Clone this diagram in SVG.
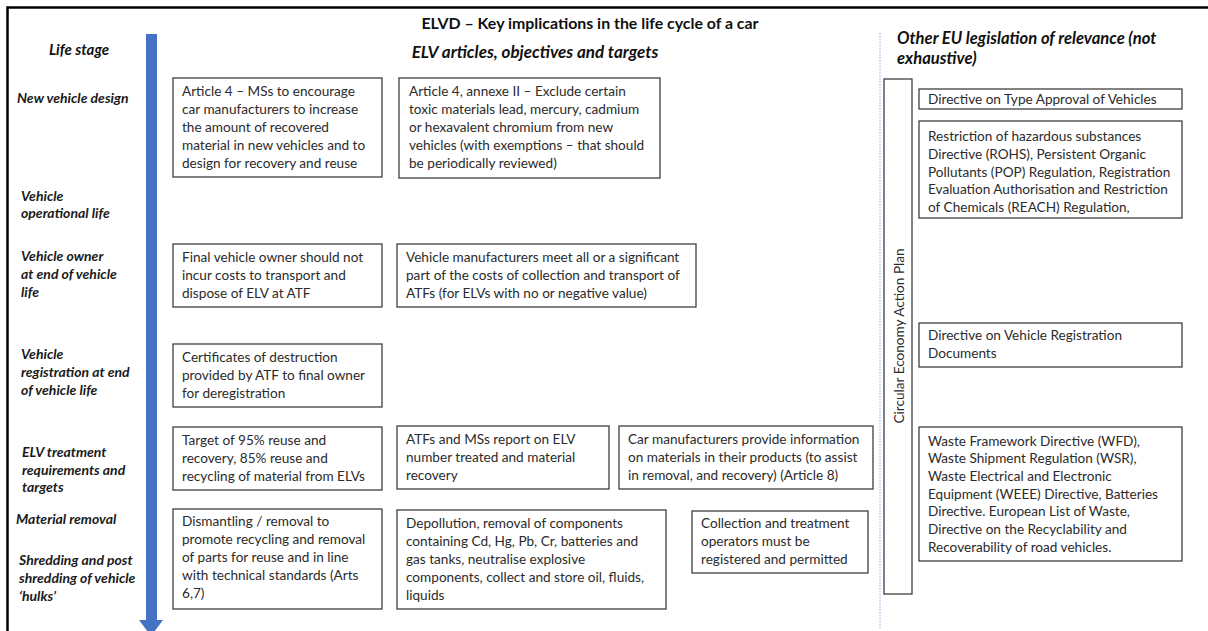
<svg xmlns="http://www.w3.org/2000/svg" width="1208" height="631" viewBox="0 0 1208 631">
  <style>
    .box { fill: #ffffff; stroke: #3f3f3f; stroke-width: 1.3; }
    .t { font-family: Lato, "Liberation Sans", sans-serif; font-size: 13.6px; fill: #2b2b2b; }
    .lab { font-family: Lato, "Liberation Sans", sans-serif; font-size: 14px; font-weight: bold; font-style: italic; fill: #1a1a1a; }
    .head { font-family: Lato, "Liberation Sans", sans-serif; font-size: 17px; font-weight: bold; font-style: italic; fill: #111111; }
    .title { font-family: Lato, "Liberation Sans", sans-serif; font-size: 15.9px; font-weight: bold; fill: #111111; }
  </style>

  <rect width="1208" height="631" fill="#ffffff"/>

  <!-- frame -->
  <path d="M7.5,631 V7.5 H1208" fill="none" stroke="#000000" stroke-width="2.5"/>

  <!-- headings -->
  <text class="title" x="590" y="29" text-anchor="middle">ELVD – Key implications in the life cycle of a car</text>
  <text class="head" x="79" y="55" text-anchor="middle" style="font-size:15px">Life stage</text>
  <text class="head" x="535" y="58" text-anchor="middle">ELV articles, objectives and targets</text>
  <text class="head" x="897" y="43.5" style="font-size:16.6px">Other EU legislation of relevance (not</text>
  <text class="head" x="897" y="63.5" style="font-size:16.6px">exhaustive)</text>

  <!-- life stage labels -->
  <g id="stages">
    <text class="lab" x="17" y="103">New vehicle design</text>
    <text class="lab" x="21" y="201">Vehicle</text>
    <text class="lab" x="21" y="218">operational life</text>
    <text class="lab" x="21" y="261">Vehicle owner</text>
    <text class="lab" x="21" y="279">at end of vehicle</text>
    <text class="lab" x="21" y="297">life</text>
    <text class="lab" x="21" y="359">Vehicle</text>
    <text class="lab" x="21" y="377">registration at end</text>
    <text class="lab" x="21" y="395">of vehicle life</text>
    <text class="lab" x="22" y="457">ELV treatment</text>
    <text class="lab" x="22" y="475">requirements and</text>
    <text class="lab" x="22" y="492">targets</text>
    <text class="lab" x="16" y="524">Material removal</text>
    <text class="lab" x="19" y="565">Shredding and post</text>
    <text class="lab" x="19" y="583">shredding of vehicle</text>
    <text class="lab" x="19" y="601">‘hulks’</text>
  </g>

  <!-- connectors: timeline arrow and column divider -->
  <g id="connectors">
    <rect x="146" y="34" width="11" height="587" fill="#4472c4"/>
    <polygon points="139,620 163,620 151,636" fill="#4472c4"/>
    <line x1="880" y1="33" x2="880" y2="628" stroke="#8eaadb" stroke-width="1" stroke-dasharray="1.5,1.5"/>
  </g>

  <!-- ELV articles -->
  <g id="art4">
    <rect class="box" x="173" y="78" width="209" height="99"/>
    <text class="t" x="182" y="96">Article 4 – MSs to encourage</text>
    <text class="t" x="182" y="114">car manufacturers to increase</text>
    <text class="t" x="182" y="132">the amount of recovered</text>
    <text class="t" x="182" y="150">material in new vehicles and to</text>
    <text class="t" x="182" y="168">design for recovery and reuse</text>
  </g>

  <g id="art4annex">
    <rect class="box" x="399" y="78" width="261" height="100"/>
    <text class="t" x="409" y="96">Article 4, annexe II  – Exclude certain</text>
    <text class="t" x="409" y="114">toxic materials lead, mercury, cadmium</text>
    <text class="t" x="409" y="132">or hexavalent chromium from new</text>
    <text class="t" x="409" y="150">vehicles  (with exemptions – that should</text>
    <text class="t" x="409" y="168">be periodically reviewed)</text>
  </g>

  <g id="ownerCosts">
    <rect class="box" x="173" y="244" width="209" height="63"/>
    <text class="t" x="182" y="262">Final vehicle owner should not</text>
    <text class="t" x="182" y="280">incur costs to transport and</text>
    <text class="t" x="182" y="298">dispose of ELV at ATF</text>
  </g>

  <g id="manufacturerCosts">
    <rect class="box" x="397" y="244" width="299" height="63"/>
    <text class="t" x="406" y="262">Vehicle manufacturers meet all or a significant</text>
    <text class="t" x="406" y="280">part of the costs of collection and transport of</text>
    <text class="t" x="406" y="298">ATFs (for ELVs with no or negative value)</text>
  </g>

  <g id="certificates">
    <rect class="box" x="173" y="344" width="209" height="63"/>
    <text class="t" x="182" y="362">Certificates of destruction</text>
    <text class="t" x="182" y="380">provided by ATF to final owner</text>
    <text class="t" x="182" y="398">for deregistration</text>
  </g>

  <g id="targets">
    <rect class="box" x="173" y="427" width="209" height="63"/>
    <text class="t" x="182" y="445">Target of 95% reuse and</text>
    <text class="t" x="182" y="463">recovery, 85% reuse and</text>
    <text class="t" x="182" y="481">recycling of material from ELVs</text>
  </g>

  <g id="reporting">
    <rect class="box" x="397" y="426" width="212" height="63"/>
    <text class="t" x="406" y="444">ATFs and MSs report on ELV</text>
    <text class="t" x="406" y="462">number treated and material</text>
    <text class="t" x="406" y="480">recovery</text>
  </g>

  <g id="materialInfo">
    <rect class="box" x="619" y="426" width="254" height="63"/>
    <text class="t" x="628" y="444">Car manufacturers provide information</text>
    <text class="t" x="628" y="462">on materials in their products (to assist</text>
    <text class="t" x="628" y="480">in removal, and recovery) (Article 8)</text>
  </g>

  <g id="dismantling">
    <rect class="box" x="173" y="509" width="209" height="100"/>
    <text class="t" x="182" y="526">Dismantling / removal to</text>
    <text class="t" x="182" y="544">promote recycling and removal</text>
    <text class="t" x="182" y="562">of parts for reuse and in line</text>
    <text class="t" x="182" y="580">with technical standards (Arts</text>
    <text class="t" x="182" y="598">6,7)</text>
  </g>

  <g id="depollution">
    <rect class="box" x="397" y="510" width="269" height="99"/>
    <text class="t" x="406" y="528">Depollution, removal of components</text>
    <text class="t" x="406" y="546">containing Cd, Hg, Pb, Cr, batteries and</text>
    <text class="t" x="406" y="564">gas tanks, neutralise explosive</text>
    <text class="t" x="406" y="582">components, collect and store oil, fluids,</text>
    <text class="t" x="406" y="600">liquids</text>
  </g>

  <g id="operators">
    <rect class="box" x="692" y="511" width="176" height="62"/>
    <text class="t" x="701" y="528">Collection and treatment</text>
    <text class="t" x="701" y="546">operators must be</text>
    <text class="t" x="701" y="564">registered and permitted</text>
  </g>

  <!-- other EU legislation -->
  <g id="circularEconomy">
    <rect class="box" x="884" y="79" width="28" height="515"/>
    <text class="t" transform="translate(903.5,336) rotate(-90)" text-anchor="middle">Circular Economy Action Plan</text>
  </g>

  <g id="typeApproval">
    <rect class="box" x="919" y="89" width="263" height="20"/>
    <text class="t" x="928" y="104">Directive on Type Approval of Vehicles</text>
  </g>

  <g id="chemicals">
    <rect class="box" x="919" y="121" width="263" height="97"/>
    <text class="t" x="928" y="141">Restriction of hazardous substances</text>
    <text class="t" x="928" y="159">Directive (ROHS), Persistent Organic</text>
    <text class="t" x="928" y="177">Pollutants (POP) Regulation, Registration</text>
    <text class="t" x="928" y="194">Evaluation Authorisation and Restriction</text>
    <text class="t" x="928" y="212">of Chemicals (REACH) Regulation,</text>
  </g>

  <g id="registrationDocs">
    <rect class="box" x="919" y="323" width="263" height="44"/>
    <text class="t" x="928" y="340">Directive on Vehicle Registration</text>
    <text class="t" x="928" y="358">Documents</text>
  </g>

  <g id="waste">
    <rect class="box" x="919" y="427" width="263" height="134"/>
    <text class="t" x="928" y="446">Waste Framework Directive (WFD),</text>
    <text class="t" x="928" y="463">Waste Shipment Regulation (WSR),</text>
    <text class="t" x="928" y="481">Waste Electrical and Electronic</text>
    <text class="t" x="928" y="499">Equipment (WEEE) Directive, Batteries</text>
    <text class="t" x="928" y="516">Directive. European List of Waste,</text>
    <text class="t" x="928" y="534">Directive on the Recyclability and</text>
    <text class="t" x="928" y="552">Recoverability of road vehicles.</text>
  </g>
</svg>
